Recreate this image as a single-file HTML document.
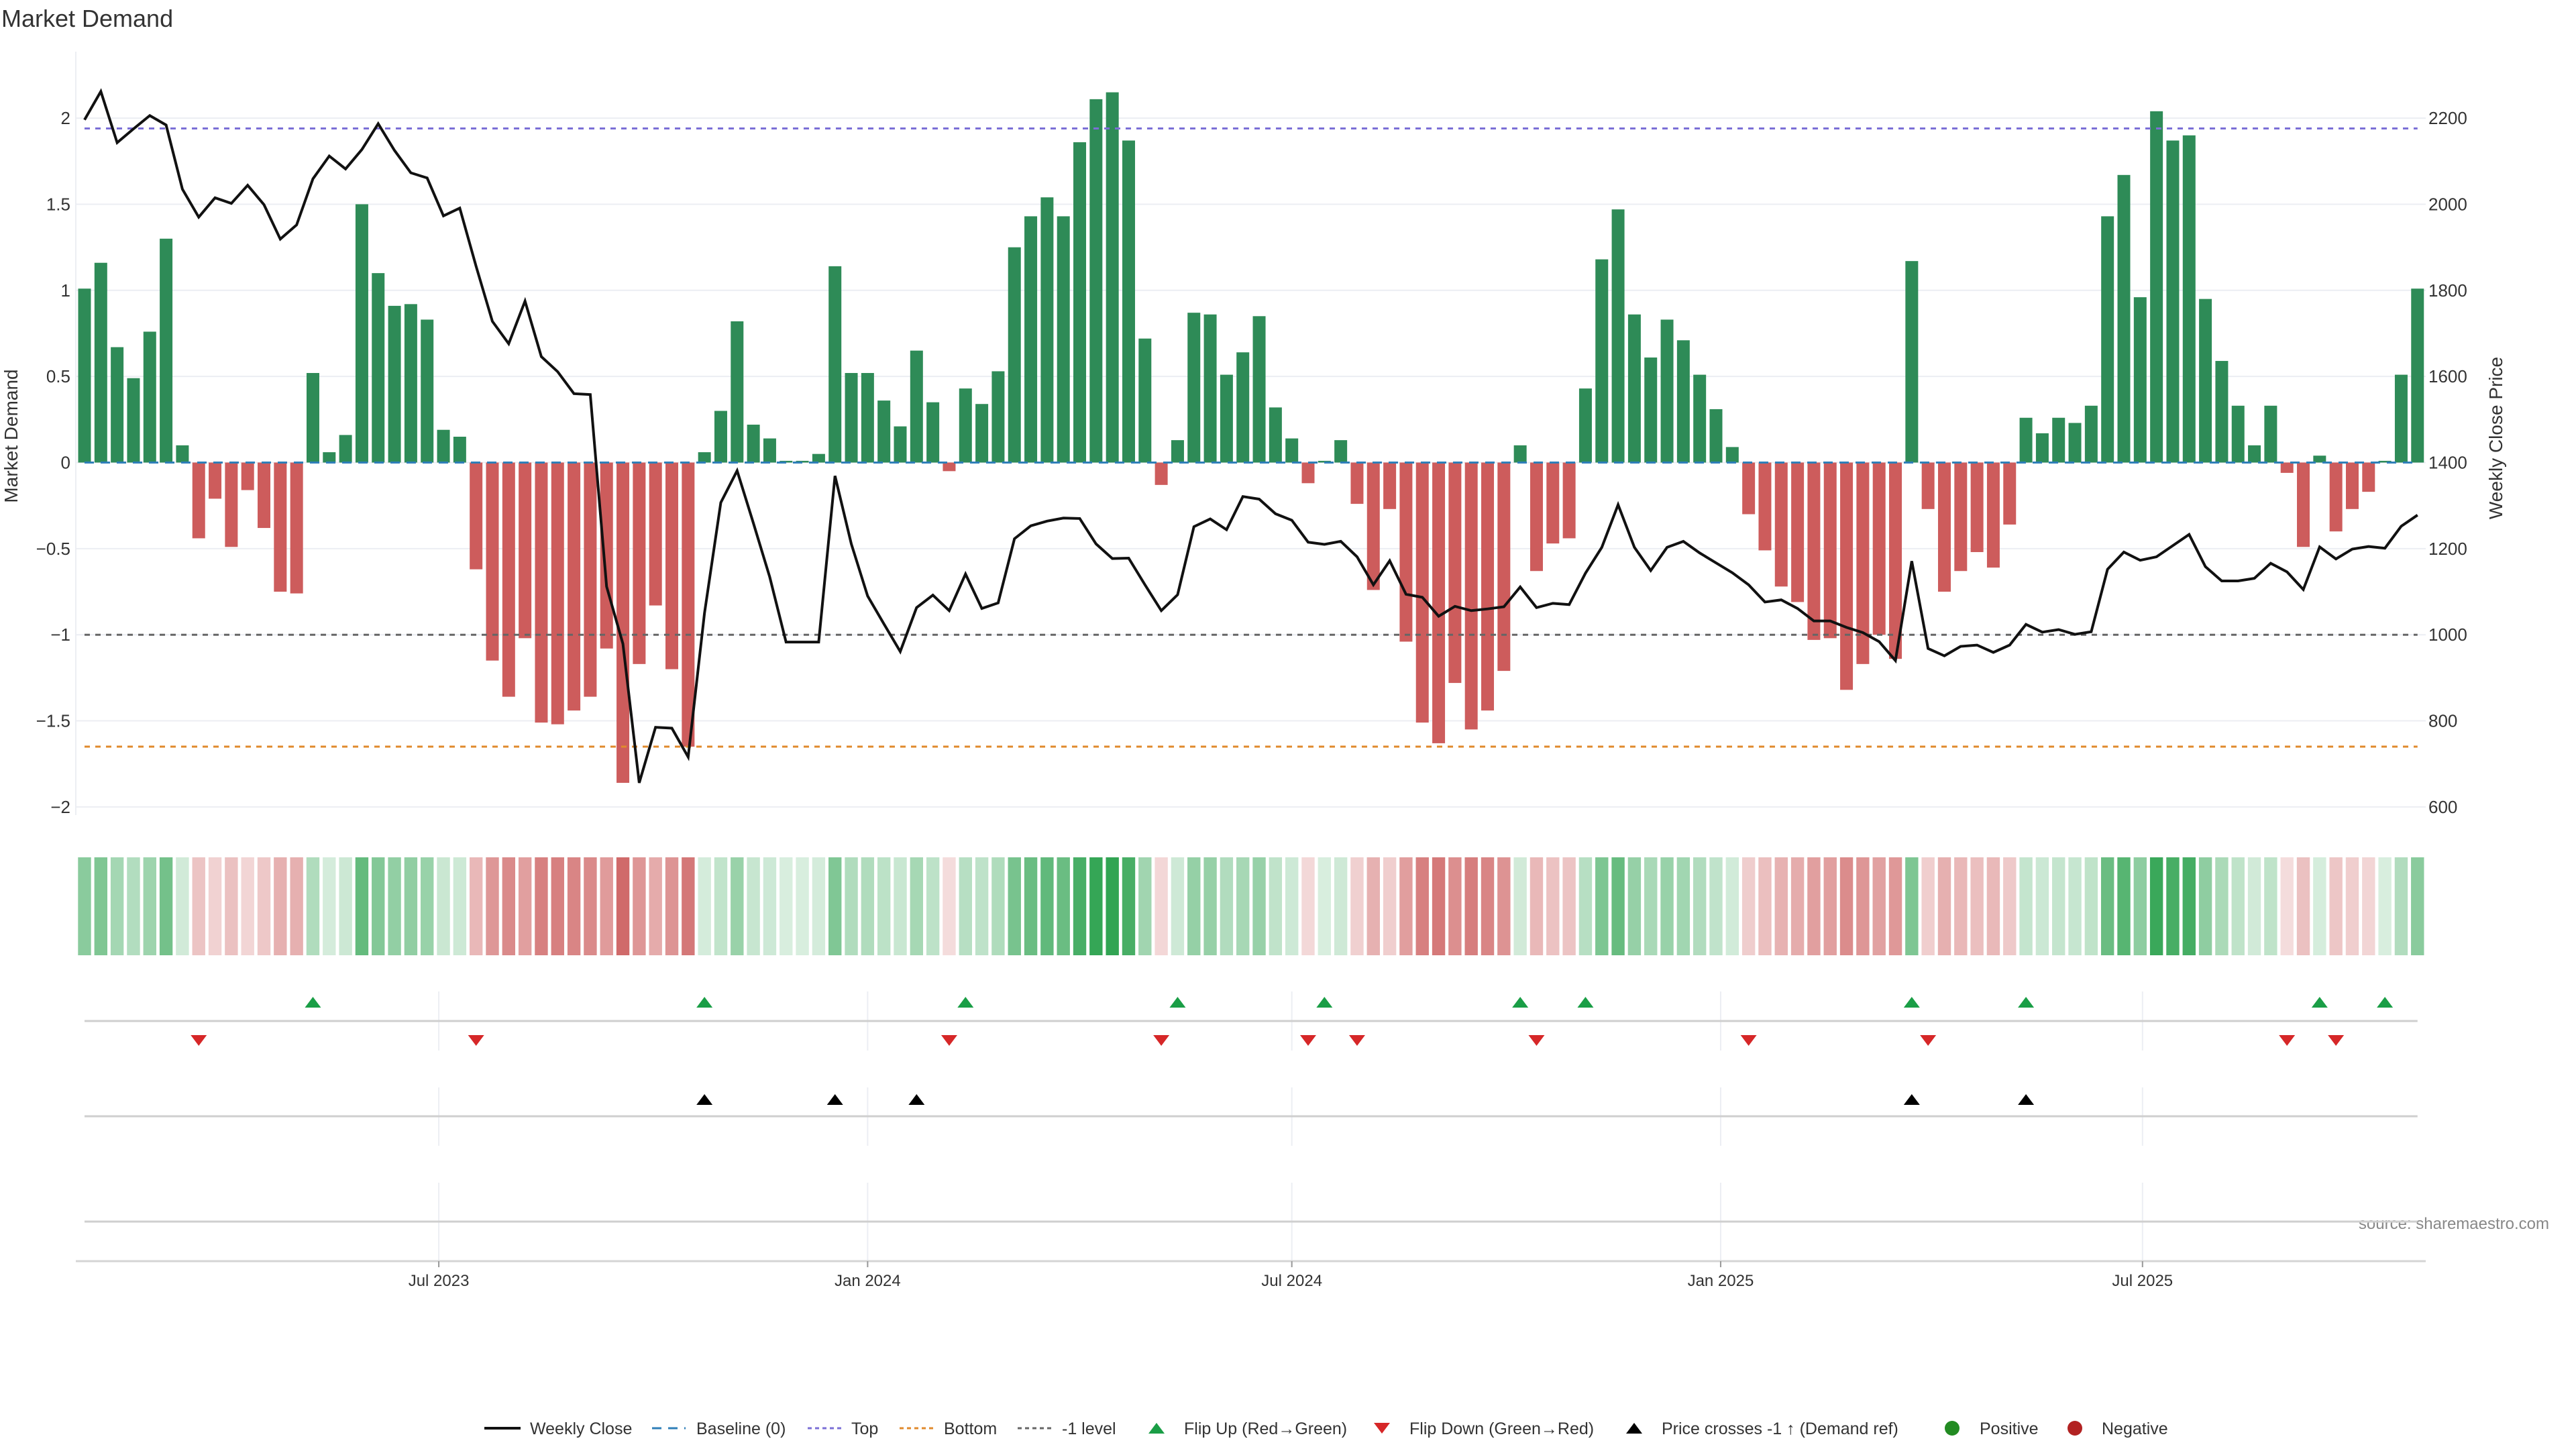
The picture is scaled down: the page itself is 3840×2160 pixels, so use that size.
<!DOCTYPE html>
<html><head><meta charset="utf-8"><style>
html,body{margin:0;padding:0;background:#fff;}
svg{display:block;font-family:"Liberation Sans","DejaVu Sans",sans-serif;}
</style></head><body>
<svg id="chart" width="3840" height="2160" viewBox="0 0 3840 2160" xmlns="http://www.w3.org/2000/svg">
<text x="2" y="40" font-size="36" fill="#333">Market Demand</text>
<text transform="translate(26,650) rotate(-90)" text-anchor="middle" font-size="28" fill="#333">Market Demand</text>
<text transform="translate(3730,653) rotate(-90)" text-anchor="middle" font-size="28" fill="#333">Weekly Close Price</text>
<text x="3800" y="1832" text-anchor="end" font-size="24" fill="#888">source: sharemaestro.com</text>
<g id="grid"></g><g id="bars"></g><g id="lines"></g><g id="heat"></g><g id="rows"></g><g id="axes"></g>
<g id="legend"></g>
</svg>
<script>
const demand=[1.01,1.16,0.67,0.49,0.76,1.30,0.10,-0.44,-0.21,-0.49,-0.16,-0.38,-0.75,-0.76,0.52,0.06,0.16,1.50,1.10,0.91,0.92,0.83,0.19,0.15,-0.62,-1.15,-1.36,-1.02,-1.51,-1.52,-1.44,-1.36,-1.08,-1.86,-1.17,-0.83,-1.20,-1.65,0.06,0.30,0.82,0.22,0.14,0.01,0.01,0.05,1.14,0.52,0.52,0.36,0.21,0.65,0.35,-0.05,0.43,0.34,0.53,1.25,1.43,1.54,1.43,1.86,2.11,2.15,1.87,0.72,-0.13,0.13,0.87,0.86,0.51,0.64,0.85,0.32,0.14,-0.12,0.01,0.13,-0.24,-0.74,-0.27,-1.04,-1.51,-1.63,-1.28,-1.55,-1.44,-1.21,0.10,-0.63,-0.47,-0.44,0.43,1.18,1.47,0.86,0.61,0.83,0.71,0.51,0.31,0.09,-0.30,-0.51,-0.72,-0.81,-1.03,-1.02,-1.32,-1.17,-1.00,-1.14,1.17,-0.27,-0.75,-0.63,-0.52,-0.61,-0.36,0.26,0.17,0.26,0.23,0.33,1.43,1.67,0.96,2.04,1.87,1.90,0.95,0.59,0.33,0.10,0.33,-0.06,-0.49,0.04,-0.40,-0.27,-0.17,0.01,0.51,1.01];
const price=[2196,2262,2143,2175,2206,2184,2035,1970,2015,2002,2044,1999,1919,1952,2059,2112,2082,2127,2187,2125,2073,2061,1973,1991,1856,1728,1676,1775,1646,1611,1560,1558,1112,979,656,785,783,716,1050,1307,1381,1259,1134,983,983,983,1369,1211,1090,1025,961,1063,1092,1056,1141,1061,1074,1223,1253,1264,1271,1270,1211,1177,1178,1116,1056,1093,1251,1269,1244,1321,1315,1281,1266,1215,1210,1217,1181,1116,1172,1094,1087,1043,1066,1056,1060,1065,1111,1063,1073,1070,1143,1203,1302,1203,1149,1203,1217,1190,1167,1144,1116,1076,1081,1061,1032,1032,1017,1005,984,940,1171,968,951,973,976,959,976,1024,1006,1012,1001,1007,1152,1192,1173,1181,1207,1233,1158,1125,1125,1131,1166,1146,1105,1204,1176,1199,1205,1201,1252,1278];
const flipUp=[14,38,54,67,76,88,92,112,119,137,141];
const flipDown=[7,24,53,66,75,78,89,102,113,135,138];
const priceCross=[38,46,51,112,119];
const leftTicks=[2,1.5,1,0.5,0,-0.5,-1,-1.5,-2];
const rightTicks=[600,800,1000,1200,1400,1600,1800,2000,2200];
const xTickLabels=["Jul 2023","Jan 2024","Jul 2024","Jan 2025","Jul 2025"];
const xTickDates=["2023-07-01","2024-01-01","2024-07-01","2025-01-01","2025-07-01"];
const levelTop=1.94, levelBottom=-1.65, levelMinus1=-1;
const startDate="2023-01-30";

const NS="http://www.w3.org/2000/svg";
const X0=126, STEP=24.32, PLOT_L=113, PLOT_R=3616;
const day0=Date.parse(startDate);
function xIdx(i){return X0+i*STEP;}
function xDate(s){return X0+(Date.parse(s)-day0)/86400000*STEP/7;}
function yD(v){return 689.5-v*256.7;}
function yP(p){return yD((p-1400)/400);}
function mk(tag,attrs,parent){const e=document.createElementNS(NS,tag);for(const k in attrs)e.setAttribute(k,attrs[k]);document.getElementById(parent).appendChild(e);return e;}

leftTicks.forEach(v=>{
  const l=mk('line',{x1:PLOT_L,x2:PLOT_R,y1:yD(v),y2:yD(v),stroke:'#eceef3','stroke-width':2},'grid');
  
  
  const t=mk('text',{x:105,y:yD(v)+9,'text-anchor':'end','font-size':26,fill:'#333'},'axes');
  t.textContent=String(v).replace('-','\u2212');
  
  
});
rightTicks.forEach(p=>{
  const t=mk('text',{x:3620,y:yP(p)+9,'font-size':26,fill:'#333'},'axes');
  t.textContent=p;
  
  
});
mk('line',{x1:PLOT_L,x2:PLOT_L,y1:77,y2:1215,stroke:'#eceef3','stroke-width':2},'grid');

demand.forEach((v,i)=>{
  const y=Math.min(yD(0),yD(v)),h=Math.abs(yD(v)-yD(0));
  const r=mk('rect',{x:xIdx(i)-9.5,y:y,width:19,height:Math.max(h,0.5),fill:v>=0?'#2e8b57':'#cd5c5c'},'bars');
  
  
});
function hline(v,color,name,dash){
  const l=mk('line',{x1:X0,x2:xIdx(demand.length-1),y1:yD(v),y2:yD(v),stroke:color,'stroke-width':3,'stroke-dasharray':dash},'lines');
  
  
}
hline(0,'#2f7fb8','baseline-zero','14,10');
hline(levelTop,'#7b6fd6','top-level-line','8,8');
hline(levelBottom,'#e08a2c','bottom-level-line','8,8');
hline(levelMinus1,'#666','minus-one-level-line','8,8');
const pl=mk('polyline',{points:price.map((p,i)=>xIdx(i)+','+yP(p)).join(' '),fill:'none',stroke:'#111','stroke-width':4,'stroke-linejoin':'miter'},'lines');



demand.forEach((v,i)=>{
  const a=Math.min(0.97,0.18+0.36*Math.abs(v));
  const base=v>=0?[40,160,75]:[200,80,80];
  const c=base.map(b=>Math.round(255-(255-b)*a));
  const r=mk('rect',{x:xIdx(i)-9.7,y:1278,width:19.4,height:146,fill:'rgb('+c.join(',')+')'},'heat');
  
  
});

const XR=xIdx(demand.length-1);
[[1478,1566],[1621,1708],[1763,1889]].forEach(seg=>{
  xTickDates.forEach(d=>{mk('line',{x1:xDate(d),x2:xDate(d),y1:seg[0],y2:seg[1],stroke:'#eceef3','stroke-width':2},'rows');});
});
[1522,1664,1821].forEach(y=>{
  const l=mk('line',{x1:X0,x2:XR,y1:y,y2:y,stroke:'#cfcfcf','stroke-width':3},'rows');
  
  
});
function tri(cx,cy,up,color,name){
  const pts=up?[[cx-12,cy+8],[cx+12,cy+8],[cx,cy-8]]:[[cx-12,cy-8],[cx+12,cy-8],[cx,cy+8]];
  const p=mk('polygon',{points:pts.map(q=>q.join(',')).join(' '),fill:color},'rows');
  
  
}
flipUp.forEach(i=>tri(xIdx(i),1494,true,'#1a9e46','flip-up-marker'));
flipDown.forEach(i=>tri(xIdx(i),1551,false,'#d62728','flip-down-marker'));
priceCross.forEach(i=>tri(xIdx(i),1639,true,'#000','price-cross-marker'));

const xa=mk('line',{x1:PLOT_L,x2:PLOT_R,y1:1880,y2:1880,stroke:'#d5d5d5','stroke-width':3},'axes');


xTickLabels.forEach((lab,k)=>{
  const x=xDate(xTickDates[k]);
  mk('line',{x1:x,x2:x,y1:1880,y2:1889,stroke:'#999','stroke-width':2},'axes');
  const t=mk('text',{x:x,y:1917,'text-anchor':'middle','font-size':24,fill:'#333'},'axes');
  t.textContent=lab;
  
  
});

const LY=2129;
function ltext(x,s){const t=mk('text',{x:x,y:LY+9,'font-size':25,fill:'#333'},'legend');t.textContent=s;}
mk('line',{x1:722,x2:776,y1:LY,y2:LY,stroke:'#111','stroke-width':4},'legend');ltext(790,'Weekly Close');
mk('line',{x1:972,x2:1022,y1:LY,y2:LY,stroke:'#2f7fb8','stroke-width':3,'stroke-dasharray':'14,10'},'legend');ltext(1038,'Baseline (0)');
mk('line',{x1:1204,x2:1254,y1:LY,y2:LY,stroke:'#7b6fd6','stroke-width':3,'stroke-dasharray':'6,5'},'legend');ltext(1269,'Top');
mk('line',{x1:1341,x2:1391,y1:LY,y2:LY,stroke:'#e08a2c','stroke-width':3,'stroke-dasharray':'6,5'},'legend');ltext(1407,'Bottom');
mk('line',{x1:1517,x2:1567,y1:LY,y2:LY,stroke:'#666','stroke-width':3,'stroke-dasharray':'6,5'},'legend');ltext(1583,'-1 level');
tri(1724,LY,true,'#1a9e46','legend-flip-up');ltext(1765,'Flip Up (Red\u2192Green)');
tri(2060,LY,false,'#d62728','legend-flip-down');ltext(2101,'Flip Down (Green\u2192Red)');
tri(2436,LY,true,'#000','legend-price-cross');ltext(2477,'Price crosses -1 \u2191 (Demand ref)');
mk('circle',{cx:2910,cy:LY,r:11,fill:'#228b22'},'legend');ltext(2951,'Positive');
mk('circle',{cx:3093,cy:LY,r:11,fill:'#b22222'},'legend');ltext(3133,'Negative');
</script>
</body></html>
